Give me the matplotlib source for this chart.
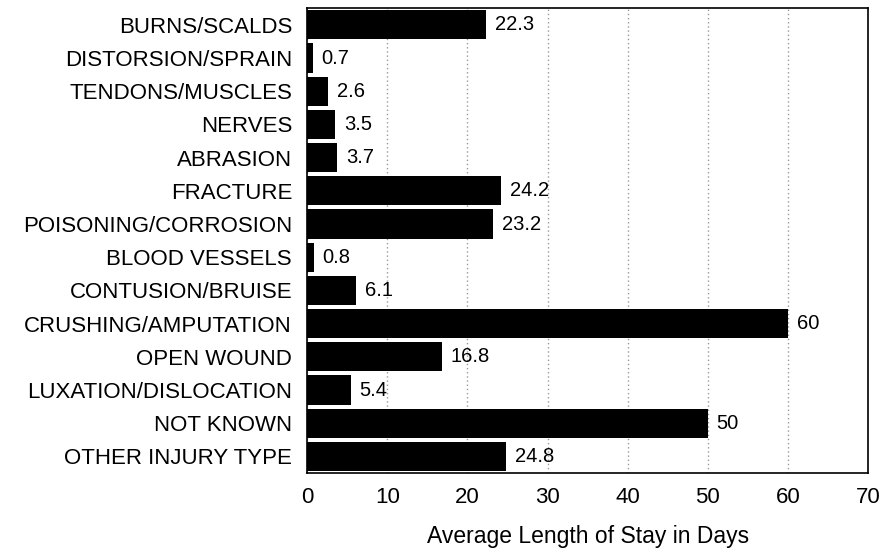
import matplotlib
matplotlib.use("Agg")
import matplotlib.pyplot as plt

categories = ["BURNS/SCALDS", "DISTORSION/SPRAIN", "TENDONS/MUSCLES", "NERVES",
              "ABRASION", "FRACTURE", "POISONING/CORROSION", "BLOOD VESSELS",
              "CONTUSION/BRUISE", "CRUSHING/AMPUTATION", "OPEN WOUND",
              "LUXATION/DISLOCATION", "NOT KNOWN", "OTHER INJURY TYPE"]
values = [22.3, 0.7, 2.6, 3.5, 3.7, 24.2, 23.2, 0.8, 6.1, 60, 16.8, 5.4, 50, 24.8]
labels = ["22.3", "0.7", "2.6", "3.5", "3.7", "24.2", "23.2", "0.8", "6.1",
          "60", "16.8", "5.4", "50", "24.8"]
xticks = [0, 10, 20, 30, 40, 50, 60, 70]

plt.rcParams['font.family'] = ['Liberation Sans', 'DejaVu Sans']

fig = plt.figure(figsize=(8.83, 5.5), dpi=100)
ax = fig.add_axes([0.348, 0.14, 0.635, 0.845])

pos = list(range(len(categories)))
ax.barh(pos, values, height=0.88, color="black", zorder=3)
for p, v, t in zip(pos, values, labels):
    ax.text(v + 1.1, p, t, va="center", ha="left", fontsize=14.5, zorder=4)

ax.set_ylim(len(categories) - 0.5, -0.5)
ax.set_xlim(0, 70)
ax.set_xticks(xticks)
ax.set_yticks(pos)
ax.set_yticklabels(categories, fontsize=16)
ax.tick_params(axis="x", labelsize=16, length=0, pad=10)
ax.tick_params(axis="y", length=0, pad=11)
ax.xaxis.grid(True, linestyle=(0, (1, 2)), color="#999999", linewidth=1, zorder=0)
ax.set_xlabel("Average Length of Stay in Days", fontsize=16.5, labelpad=12)
for s in ax.spines.values():
    s.set_linewidth(1.2)

fig.savefig("out.png", dpi=100)
